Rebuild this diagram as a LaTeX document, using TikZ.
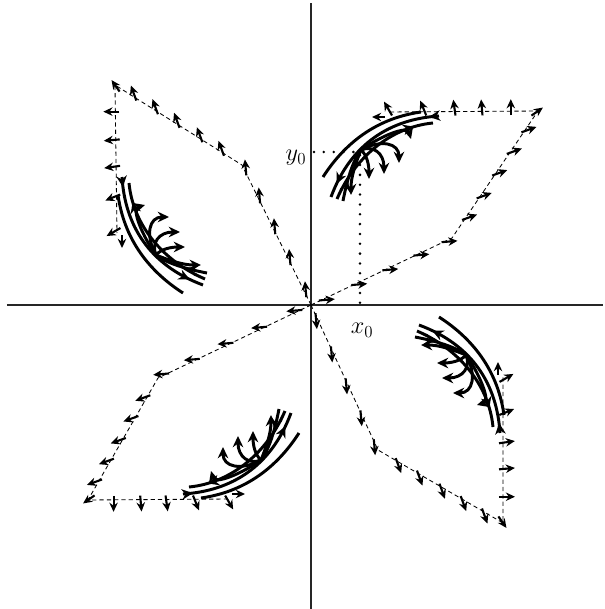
\documentclass[tikz,border=0pt]{standalone}
\usetikzlibrary{arrows.meta,calc,decorations.markings}

\tikzset{
  axis/.style={line width=0.9pt, black!85},
  edge/.style={line width=0.6pt, dash pattern=on 3pt off 2.2pt},
  vec/.style={line width=1.5pt, -{Stealth[length=6.5pt,width=6pt]}},
  flow/.style={line width=2.1pt},
  flowend/.style={flow, -{Stealth[length=8pt,width=7.5pt]}},
  tipat/.style={postaction={decorate}, decoration={markings,
      mark=at position #1 with {\arrow{Stealth[length=8pt,width=7.5pt]}}}},
  tiptwo/.style 2 args={postaction={decorate}, decoration={markings,
      mark=at position #1 with {\arrow{Stealth[length=8pt,width=7.5pt]}},
      mark=at position #2 with {\arrow{Stealth[length=8pt,width=7.5pt]}}}},
  guide/.style={line width=2pt, dash pattern=on 0pt off 7pt, line cap=round},
  lbl/.style={font=\LARGE}
}

% streamlines around the point (x_0,y_0), first quadrant frame
\newcommand\bundle{%
  \draw[flow] (12,128) .. controls (30,156) and (60,186) .. (110,193);
  \draw[flow, tiptwo={0.07}{0.9}] (128,189) .. controls (80,186) and (40,162) .. (20,108);
  \draw[flow, tipat=0.85] (26,106) .. controls (44,148) and (80,178) .. (122,182);
  \draw[flow, tipat=0.4] (32,104) .. controls (36,125) and (42,145) .. (50,155);
  \draw[flowend] (50,155) .. controls (68,168) and (96,180) .. (100,166);
  \draw[flowend] (50,155) .. controls (70,166) and (88,162) .. (88,142);
  \draw[flowend] (50,155) .. controls (62,160) and (73,152) .. (73,131);
  \draw[flowend] (50,155) .. controls (56,150) and (58,140) .. (58,126);
  \draw[flowend] (50,155) .. controls (44,140) and (40,128) .. (40,110);
}

% one quadrant: rotation, then the corners v1, v2 and the end t
\newcommand\quadrant[4]{%
  \begin{scope}[rotate=#1]
    \coordinate (o) at (0,0);
    \coordinate (v1) at (#2);
    \coordinate (v2) at (#3);
    \coordinate (t) at (#4);
    \draw[edge] (o) -- (v1) -- (v2) -- (t);
    \foreach \s in {0.07,0.3,0.52,0.74,0.94}
      \draw[vec] ($(o)!\s!(v1)$) ++(185:2) -- ++(5:16);
    \foreach \s in {0.15,0.32,0.5,0.67,0.84}
      \draw[vec] ($(v1)!\s!(v2)$) ++(200:3) -- ++(20:16);
    \draw[vec] (v2) ++(215:8) -- ++(35:14);
    \foreach \s/\a in {0.18/90,0.37/95,0.55/98,0.75/112,0.98/120}
      \draw[vec] ($(v2)!\s!(t)$) ++(\a+180:4) -- ++(\a:16);
    \draw[vec] ($(t)+(-2,-5)$) -- ++(180:13);
    \bundle
  \end{scope}}

\begin{document}
\begin{tikzpicture}[x=0.25mm, y=0.25mm]
  \useasboundingbox (-311,-304) rectangle (294,305);

  % axes
  \draw[axis] (-304,0) -- (292,0);
  \draw[axis] (0,302) -- (0,-304);

  \quadrant{0}{141,67}{227,194}{76,193}
  \quadrant{90}{140,69}{220,196}{72,194}
  \quadrant{180}{153,73}{223,195}{81,194}
  \quadrant{270}{145,67}{218,192}{72,192}

  % the point (x_0,y_0)
  \coordinate (p) at (49,153);
  \coordinate (px) at (49,2);
  \coordinate (py) at (3,153);
  \draw[guide] (py) -- (p) -- (px);
  \node[lbl] (ylab) at (-15,147) {$y_0$};
  \node[lbl] (xlab) at (51,-25) {$x_0$};
\end{tikzpicture}
\end{document}
